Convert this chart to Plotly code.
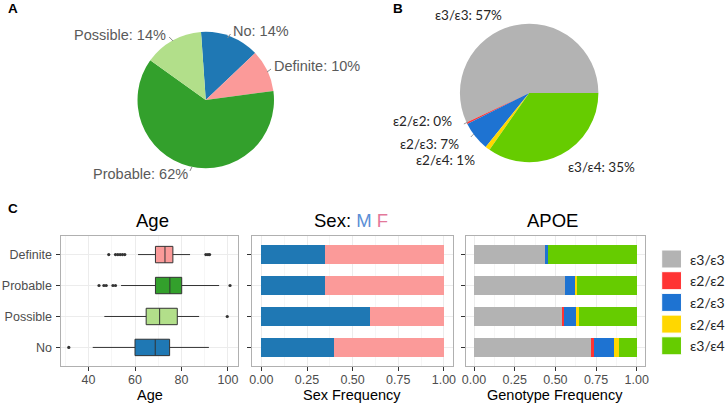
import plotly.graph_objects as go

W, H = 728, 404

# ---------------- data ----------------
# Panel A: diagnosis share
diag_labels = ["No", "Definite", "Probable", "Possible"]
diag_pct = [14, 10, 62, 14]
diag_colors = ["#1f78b4", "#fb9a99", "#33a02c", "#b2df8a"]

# Panel B: APOE genotype share
geno_labels = ["ε3/ε3", "ε2/ε2", "ε2/ε3", "ε2/ε4", "ε3/ε4"]
geno_pct = [57.0, 0.4, 6.8, 1.1, 34.7]
geno_pct_text = ["57%", "0%", "7%", "1%", "35%"]
geno_colors = ["#b3b3b3", "#ff3333", "#1e73d2", "#ffd700", "#66cc00"]

# Panel C
groups = ["No", "Possible", "Probable", "Definite"]
group_colors = ["#1f78b4", "#b2df8a", "#33a02c", "#fb9a99"]

age_q1 = [60.0, 64.8, 68.8, 68.8]
age_median = [68.7, 70.6, 75.0, 72.9]
age_q3 = [74.9, 78.2, 80.1, 76.3]
age_lower = [41.8, 46.8, 54.0, 61.3]
age_upper = [91.8, 87.6, 96.2, 83.7]
outliers_no = [31.5]
outliers_possible = [99.7]
outliers_probable = [44.5, 46.6, 47.6, 50.5, 51.6, 100.9]
outliers_definite = [48.7, 51.6, 52.6, 53.6, 54.6, 55.6, 90.5, 91.4, 92.1]

sex_male = [0.400, 0.593, 0.350, 0.347]
sex_female = [0.600, 0.407, 0.650, 0.653]

apoe_e3e3 = [0.721, 0.545, 0.561, 0.437]
apoe_e2e2 = [0.015, 0.010, 0.000, 0.000]
apoe_e2e3 = [0.126, 0.077, 0.061, 0.016]
apoe_e2e4 = [0.028, 0.012, 0.008, 0.000]
apoe_e3e4 = [0.110, 0.356, 0.370, 0.547]
apoe_series = [apoe_e3e3, apoe_e2e2, apoe_e2e3, apoe_e2e4, apoe_e3e4]

age_ticks = [40, 60, 80, 100]
freq_ticks = [0, 0.25, 0.5, 0.75, 1.0]
freq_ticktext = ["0.00", "0.25", "0.50", "0.75", "1.00"]

# ---------------- helpers ----------------
def px(x):
    return x / W

def py(y):
    return 1 - y / H

SANS = "Liberation Sans, Arial, sans-serif"
CAL = "Lato, Noto Sans, sans-serif"

fig = go.Figure()

# Panel A pie
fig.add_trace(go.Pie(
    labels=diag_labels, values=diag_pct, sort=False, direction="clockwise",
    rotation=-4, marker=dict(colors=diag_colors, line=dict(width=0)),
    textinfo="none", showlegend=False, hoverinfo="label+percent",
    domain=dict(x=[px(135), px(273)], y=[py(169), py(31)]),
))

# Panel B pie
fig.add_trace(go.Pie(
    labels=geno_labels, values=geno_pct, sort=False, direction="counterclockwise",
    rotation=-115.2, marker=dict(colors=geno_colors, line=dict(width=0)),
    textinfo="none", showlegend=False, hoverinfo="label+percent",
    domain=dict(x=[px(461), px(601)], y=[py(163), py(23)]),
))

# Age boxes
for i, g in enumerate(groups):
    fig.add_trace(go.Box(
        y=[g], q1=[age_q1[i]], median=[age_median[i]], q3=[age_q3[i]],
        lowerfence=[age_lower[i]], upperfence=[age_upper[i]],
        orientation="h", boxpoints=False, whiskerwidth=0, width=0.53,
        fillcolor=group_colors[i], line=dict(color="#333333", width=1),
        showlegend=False, xaxis="x", yaxis="y",
    ))

outlier_lists = [outliers_no, outliers_possible, outliers_probable, outliers_definite]
for g, vals in zip(groups, outlier_lists):
    fig.add_trace(go.Scatter(
        x=vals, y=[g] * len(vals), mode="markers",
        marker=dict(color="#333333", size=3.2),
        showlegend=False, xaxis="x", yaxis="y",
    ))

# Sex bars
fig.add_trace(go.Bar(y=groups, x=sex_male, orientation="h", width=0.63,
                     marker=dict(color="#1f78b4", line=dict(width=0)),
                     showlegend=False, xaxis="x2", yaxis="y2", name="M"))
fig.add_trace(go.Bar(y=groups, x=sex_female, orientation="h", width=0.63,
                     marker=dict(color="#fb9a99", line=dict(width=0)),
                     showlegend=False, xaxis="x2", yaxis="y2", name="F"))

# APOE bars
for lab, col, vals in zip(geno_labels, geno_colors, apoe_series):
    fig.add_trace(go.Bar(y=groups, x=vals, orientation="h", width=0.63,
                         marker=dict(color=col, line=dict(width=0)),
                         showlegend=False, xaxis="x3", yaxis="y3", name=lab))

grid_major = "#ececec"
grid_minor = "#f6f6f6"
tickfont = dict(family=SANS, size=12.5, color="#4d4d4d")

ydom = [py(366), py(236)]

def xax(domain, rng, tickvals, ticktext, minor_dtick):
    return dict(
        domain=domain, range=rng, tickvals=tickvals, ticktext=ticktext,
        ticks="outside", ticklen=4, tickcolor="#333333", tickwidth=1,
        ticklabelstandoff=-2,
        tickfont=tickfont, showgrid=True, gridcolor=grid_major, gridwidth=1,
        minor=dict(dtick=minor_dtick, tick0=0, showgrid=True, gridcolor=grid_minor, gridwidth=0.6, ticks=""),
        zeroline=False, showline=True, linecolor="#b0b0b0", linewidth=1, mirror=True,
        fixedrange=True,
    )

def yax(anchor, labels):
    return dict(
        domain=ydom, anchor=anchor, type="category", categoryorder="array",
        categoryarray=groups, range=[-0.6, 3.6],
        ticks="outside", ticklen=4, tickcolor="#333333", tickwidth=1,
        showticklabels=labels, tickfont=tickfont, ticklabelstandoff=2,
        showgrid=True, gridcolor=grid_major, zeroline=False,
        showline=True, linecolor="#b0b0b0", linewidth=1, mirror=True,
        fixedrange=True,
    )

fig.update_layout(
    width=W, height=H, margin=dict(l=0, r=0, t=0, b=0),
    paper_bgcolor="white", plot_bgcolor="white",
    barmode="stack", boxmode="overlay",
    xaxis=xax([px(58), px(237)], [28.3, 104.5], age_ticks, [str(t) for t in age_ticks], 10),
    yaxis=yax("x", True),
    xaxis2=xax([px(251), px(454)], [-0.05, 1.05], freq_ticks, freq_ticktext, 0.125),
    yaxis2=yax("x2", False),
    xaxis3=xax([px(467), px(648)], [-0.05, 1.05], freq_ticks, freq_ticktext, 0.125),
    yaxis3=yax("x3", False),
)
fig.layout.xaxis.anchor = "y"
fig.layout.xaxis2.anchor = "y2"
fig.layout.xaxis3.anchor = "y3"

ann = []
shapes = []

def text(x, y, s, size, color="#000000", family=SANS, xanchor="center", bold=False):
    if bold:
        s = "<b>" + s + "</b>"
    ann.append(dict(x=px(x), y=py(y), xref="paper", yref="paper", text=s,
                    showarrow=False, xanchor=xanchor, yanchor="middle",
                    font=dict(family=family, size=size, color=color)))

def line(x0, y0, x1, y1, color="#777777", width=1):
    shapes.append(dict(type="line", xref="paper", yref="paper",
                       x0=px(x0), y0=py(y0), x1=px(x1), y1=py(y1),
                       line=dict(color=color, width=width)))

# panel letters
text(2, 8, "A", 13.5, xanchor="left", bold=True)
text(391, 8, "B", 13.5, xanchor="left", bold=True)
text(2, 208, "C", 13.5, xanchor="left", bold=True)

# Panel A labels
gA = "#5a5a5a"
labA = {lab: f"{lab}: {p}%" for lab, p in zip(diag_labels, diag_pct)}
text(166, 35, labA["Possible"], 14.5, gA, xanchor="right")
text(230, 31, labA["No"], 14.5, gA, xanchor="left")
text(271, 66, labA["Definite"], 14.5, gA, xanchor="left")
text(188, 174, labA["Probable"], 14.5, gA, xanchor="right")
line(167, 37, 171, 41, "#888888")
line(229, 34, 226, 38, "#888888")
line(270, 69, 266, 72, "#888888")
line(188, 171, 190, 167, "#888888")

# Panel B labels
cB = "#262626"
labB = [f"{l}: {t}" for l, t in zip(geno_labels, geno_pct_text)]
text(470, 15, labB[0], 13.5, cB, CAL)
text(455, 121, labB[1], 13.5, cB, CAL, xanchor="right")
text(462, 144, labB[2], 13.5, cB, CAL, xanchor="right")
text(478, 160, labB[3], 13.5, cB, CAL, xanchor="right")
text(568, 167, labB[4], 13.5, cB, CAL, xanchor="left")
line(465, 124, 469, 122, "#999999")
line(472, 137, 475, 134, "#999999")

# Panel C titles
text(150, 220, "Age", 18.5)
text(351, 220, "Sex: <span style='color:#5b8fd6'>M</span> <span style='color:#e3789a'>F</span>", 18.5)
text(555, 220, "APOE", 18.5)
text(147.5, 395, "Age", 14.5)
text(352, 395, "Sex Frequency", 14.5)
text(557, 395, "Genotype Frequency", 14.5)

# legend for genotype colors
for i, (lab, col) in enumerate(zip(geno_labels, geno_colors)):
    top = 250 + i * 21.7
    shapes.append(dict(type="rect", xref="paper", yref="paper",
                       x0=px(665), x1=px(685), y0=py(top + 18), y1=py(top),
                       fillcolor=col, line=dict(color="white", width=1)))
    text(692, top + 9, lab, 14, cB, CAL, xanchor="left")

fig.update_layout(annotations=ann, shapes=shapes)

fig.write_html("out.html", config={"displayModeBar": False},
               post_script="document.body.style.margin='0';document.body.style.overflow='hidden';")
